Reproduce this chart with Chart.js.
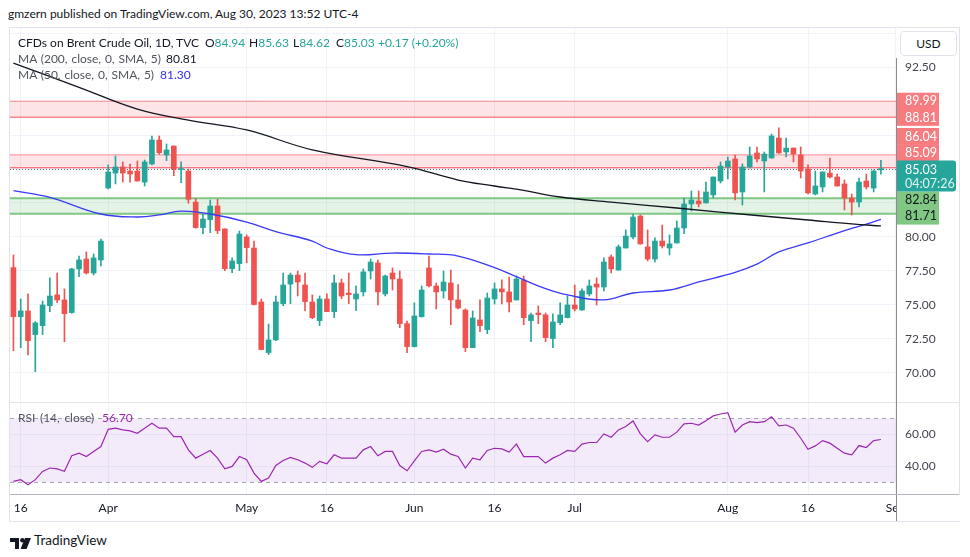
<!DOCTYPE html>
<html>
<head>
<meta charset="utf-8">
<script src="https://cdn.jsdelivr.net/npm/chart.js@4.4.0/dist/chart.umd.min.js"></script>
<style>
body { margin: 0; background: #fff; font-family: Lato, 'Noto Sans', sans-serif; color: #131722; }
#wrap { position: relative; width: 970px; height: 557px; overflow: hidden; }
.abs { position: absolute; white-space: nowrap; }
.leg { font-size: 12px; line-height: 16px; }
.ma { word-spacing: 0.8px; }
.up { color: #26a69a; }
.gray { color: #50535e; }
</style>
</head>
<body>
<div id="wrap">
  <div class="abs" style="left:8px;top:6px;font-size:12px;line-height:16px;color:#131722">gmzern published on TradingView.com, Aug 30, 2023 13:52 UTC-4</div>
  <div class="abs" style="left:9px;top:27px;width:949px;height:493px;border:1px solid #e0e3eb"></div>
  <canvas id="priceChart" width="960" height="375" style="position:absolute;left:0;top:28px"></canvas>
  <canvas id="rsiChart" width="960" height="118" style="position:absolute;left:0;top:403px"></canvas>
  <!-- pane separator and axis lines -->
  <div class="abs" style="left:10px;top:402px;width:949px;height:1px;background:#e0e3eb"></div>
  <div class="abs" style="left:896px;top:58px;width:1px;height:463px;background:#8a8d96"></div>
  <div class="abs" style="left:10px;top:494px;width:949px;height:1px;background:#b2b5be"></div>
  <div class="abs" style="left:900px;top:31px;width:55px;height:23px;border:1px solid #e0e3eb;border-radius:4px;background:#fff;font-size:12px;line-height:23px;text-align:center;color:#131722">USD</div>

  <div class="abs leg" style="left:18px;top:35px;color:#131722">CFDs on Brent Crude Oil, 1D, TVC</div>
  <div class="abs leg" style="left:205px;top:35px">O<span class="up">84.94</span></div>
  <div class="abs leg" style="left:249px;top:35px">H<span class="up">85.63</span></div>
  <div class="abs leg" style="left:293px;top:35px">L<span class="up">84.62</span></div>
  <div class="abs leg" style="left:336px;top:35px">C<span class="up">85.03</span></div>
  <div class="abs leg up" style="left:378px;top:35px">+0.17 (+0.20%)</div>
  <div class="abs leg gray ma" style="left:18px;top:51px">MA (200, close, 0, SMA, 5)</div>
  <div class="abs leg" style="left:166px;top:51px;color:#131722">80.81</div>
  <div class="abs leg gray ma" style="left:18px;top:67px">MA (50, close, 0, SMA, 5)</div>
  <div class="abs leg" style="left:160px;top:67px;color:#2f2ff0">81.30</div>
  <div class="abs leg gray" style="left:18px;top:410px;word-spacing:1.5px">RSI (14, close)</div>
  <div class="abs leg" style="left:102px;top:410px;color:#9c27b0">56.70</div>

  <div class="abs" style="left:10px;top:534px">
    <svg width="22" height="12" viewBox="0 0 22 12">
      <path d="M0 0H9V11H5V4H0Z" fill="#131722"/>
      <circle cx="12.3" cy="2.2" r="2.2" fill="#131722"/>
      <path d="M15 0H21L16.5 11H10.5Z" fill="#131722"/>
    </svg>
  </div>
  <div class="abs" style="left:34px;top:531px;font-size:13.5px;line-height:18px;color:#131722">TradingView</div>
</div>

<script>
// trading days (Good Friday Apr 7 closed); Aug 31 / Sep 1 only for the time scale
const marDays = [15, 16, 17, 20, 21, 22, 23, 24, 27, 28, 29, 30, 31];
const aprDays = [3, 4, 5, 6, 10, 11, 12, 13, 14, 17, 18, 19, 20, 21, 24, 25, 26, 27, 28];
const mayDays = [1, 2, 3, 4, 5, 8, 9, 10, 11, 12, 15, 16, 17, 18, 19, 22, 23, 24, 25, 26, 29, 30, 31];
const junDays = [1, 2, 5, 6, 7, 8, 9, 12, 13, 14, 15, 16, 19, 20, 21, 22, 23, 26, 27, 28, 29, 30];
const julDays = [3, 4, 5, 6, 7, 10, 11, 12, 13, 14, 17, 18, 19, 20, 21, 24, 25, 26, 27, 28, 31];
const augDays = [1, 2, 3, 4, 7, 8, 9, 10, 11, 14, 15, 16, 17, 18, 21, 22, 23, 24, 25, 28, 29, 30, 31];
const sepDays = [1];

const xTickDates = ['Mar 16', 'Apr 3', 'May 1', 'May 16', 'Jun 1', 'Jun 16', 'Jul 3', 'Aug 1', 'Aug 16', 'Sep 1'];
const xTickText = ['16', 'Apr', 'May', '16', 'Jun', '16', 'Jul', 'Aug', '16', 'Sep'];

const opens = [77.75, 74.14, 74.56, 72.82, 73.48, 74.95, 75.74, 75.37, 74.44, 77.65,
  78.38, 77.35, 78.31, 83.60, 84.70, 85.15, 84.85, 84.85, 84.04, 85.37,
  87.13, 86.03, 86.69, 84.96, 84.85, 82.57, 80.69, 81.27, 82.28, 80.59,
  77.67, 78.04, 80.00, 79.19, 75.22, 71.50, 72.43, 75.10, 76.54, 77.20,
  76.47, 75.22, 73.85, 75.44, 74.51, 76.62, 75.88, 75.44, 75.96, 77.50,
  78.09, 75.81, 77.35, 76.91, 73.63, 71.94, 74.14, 77.72, 76.40, 76.03,
  76.62, 75.37, 74.63, 71.86, 73.90, 73.19, 75.44, 76.18, 75.96, 75.37,
  76.84, 73.85, 74.41, 74.27, 72.53, 73.70, 74.07, 75.00, 74.63, 75.81,
  76.54, 76.32, 78.53, 77.57, 79.19, 80.00, 81.54, 79.27, 78.38, 79.70,
  79.19, 79.56, 80.66, 82.43, 82.65, 82.50, 83.09, 84.12, 85.15, 85.74,
  83.31, 85.15, 86.18, 85.59, 85.81, 87.28, 86.25, 86.54, 86.03, 85.00,
  83.16, 83.68, 84.70, 84.41, 83.90, 82.87, 82.57, 84.12, 83.60, 84.94];
const highs = [78.68, 75.44, 75.81, 73.78, 75.29, 76.99, 77.35, 76.18, 77.70, 78.60,
  78.90, 78.75, 79.85, 85.30, 85.96, 85.52, 85.37, 85.59, 85.66, 87.43,
  87.43, 86.84, 86.70, 85.52, 84.98, 82.84, 81.67, 82.72, 82.77, 80.60,
  78.46, 80.44, 80.15, 79.70, 75.44, 73.60, 75.66, 77.35, 77.35, 77.50,
  77.35, 75.74, 75.66, 75.81, 77.20, 76.91, 77.35, 76.40, 77.65, 78.38,
  78.31, 77.20, 77.72, 77.50, 73.82, 75.15, 76.40, 78.60, 76.62, 77.50,
  77.57, 76.50, 74.71, 74.56, 75.37, 75.88, 76.62, 76.84, 77.06, 77.13,
  77.13, 74.41, 74.93, 74.41, 74.34, 75.15, 75.66, 76.47, 76.18, 76.84,
  76.99, 78.46, 78.68, 79.41, 80.52, 81.69, 81.62, 80.52, 79.93, 80.88,
  80.15, 81.18, 82.87, 83.38, 83.38, 84.04, 84.42, 85.52, 85.88, 86.03,
  85.37, 86.62, 86.62, 86.25, 87.57, 88.02, 87.28, 86.55, 86.62, 85.30,
  84.85, 84.79, 85.81, 84.63, 84.19, 83.16, 84.34, 84.63, 84.93, 85.63];
const lows = [71.64, 71.86, 71.32, 70.10, 72.82, 74.51, 75.17, 72.30, 74.39, 77.08,
  77.28, 77.20, 77.87, 83.53, 83.90, 84.04, 84.04, 84.10, 83.75, 85.30,
  86.08, 85.61, 84.51, 83.99, 82.48, 80.65, 80.25, 80.32, 80.25, 77.53,
  77.38, 77.53, 78.11, 75.00, 71.70, 71.35, 72.38, 74.95, 75.10, 75.66,
  74.58, 73.99, 73.48, 74.50, 74.07, 75.47, 75.10, 74.58, 75.66, 76.91,
  75.00, 75.66, 76.10, 73.33, 71.50, 71.90, 74.10, 76.32, 74.71, 75.51,
  73.55, 74.71, 71.57, 71.85, 73.04, 72.89, 75.07, 75.07, 74.49, 75.35,
  73.55, 72.30, 73.63, 72.30, 71.86, 73.55, 74.05, 74.56, 74.60, 75.66,
  75.00, 76.03, 77.35, 77.55, 79.18, 79.85, 79.47, 78.24, 78.16, 79.19,
  78.68, 79.55, 80.25, 81.91, 82.21, 82.50, 82.87, 83.97, 84.27, 82.72,
  82.35, 85.07, 85.52, 83.31, 85.80, 86.15, 85.88, 85.52, 84.34, 83.16,
  83.09, 83.31, 84.34, 83.74, 81.99, 81.62, 82.21, 83.53, 83.31, 84.62];
const closes = [74.14, 74.56, 72.38, 73.68, 75.00, 75.66, 75.37, 74.36, 77.65, 78.31,
  77.35, 78.46, 79.70, 84.78, 85.15, 84.70, 84.63, 84.12, 85.52, 87.13,
  86.20, 86.40, 84.98, 85.00, 82.77, 80.69, 81.32, 82.28, 80.47, 77.67,
  78.24, 80.22, 79.22, 75.03, 71.72, 72.43, 75.22, 76.47, 77.20, 76.69,
  75.25, 74.07, 75.44, 74.51, 76.62, 75.66, 75.76, 75.81, 77.43, 78.16,
  75.96, 77.13, 76.91, 73.63, 71.94, 74.19, 76.10, 76.40, 75.96, 76.69,
  75.37, 74.78, 71.86, 74.04, 73.48, 75.51, 76.18, 75.96, 75.22, 76.91,
  74.07, 74.27, 74.29, 72.60, 73.75, 74.27, 75.00, 74.71, 76.03, 76.40,
  76.32, 78.16, 77.65, 79.27, 80.07, 81.47, 79.49, 78.38, 79.70, 79.34,
  79.49, 80.66, 82.43, 82.72, 82.43, 83.31, 84.41, 85.22, 85.59, 83.24,
  85.15, 85.96, 85.74, 86.10, 87.43, 86.18, 86.54, 86.10, 84.85, 83.24,
  83.75, 84.78, 84.41, 83.75, 82.87, 82.57, 84.04, 83.68, 84.86, 85.03];

// moving averages at these bars
const ma200Bars = [0, 9, 17, 24, 32, 41, 54, 61, 66, 70, 75, 82, 91, 102, 109, 115, 119];
const ma200Vals = [92.78, 91.01, 89.41, 88.60, 87.87, 86.41, 85.18, 84.19, 83.75, 83.42, 82.94, 82.57, 82.13, 81.58, 81.25, 80.96, 80.81];
const ma50Bars = [0, 5, 12, 17, 20, 23, 27, 32, 36, 41, 43, 47, 52, 57, 61, 66, 69, 73, 76, 81, 85, 90, 94, 99, 102, 105, 109, 113, 117, 119];
const ma50Vals = [83.41, 82.92, 81.69, 81.47, 81.62, 81.90, 81.69, 81.10, 80.40, 79.70, 79.19, 78.70, 78.82, 78.75, 78.60, 77.75, 77.08, 76.20, 75.74, 75.37, 75.88, 76.10, 76.69, 77.40, 78.00, 78.90, 79.56, 80.29, 80.95, 81.30];

const rsi = [30.4, 31.5, 28.3, 31.5, 36.7, 38.8, 38.3, 36.7, 46.5, 48.1,
  46.0, 49.2, 52.3, 63.1, 63.8, 62.7, 62.1, 60.6, 63.8, 66.9,
  63.8, 63.8, 58.5, 58.5, 50.2, 45.0, 47.5, 49.8, 45.0, 38.3,
  39.8, 46.0, 44.0, 35.6, 30.4, 32.5, 40.4, 43.5, 45.4, 44.0,
  41.9, 39.2, 43.0, 41.5, 47.1, 45.0, 45.0, 45.0, 50.2, 52.3,
  46.5, 49.2, 49.2, 40.4, 37.1, 43.3, 49.2, 50.2, 48.8, 50.6,
  47.5, 46.0, 38.8, 45.0, 44.0, 49.8, 51.2, 50.8, 48.8, 53.8,
  46.0, 46.0, 46.0, 41.9, 45.0, 47.1, 49.8, 49.2, 53.8, 54.8,
  54.8, 60.2, 58.1, 62.7, 64.8, 68.3, 60.2, 55.4, 59.6, 58.1,
  58.1, 61.3, 66.5, 66.9, 65.8, 68.5, 71.5, 72.7, 73.5, 61.3,
  65.8, 67.9, 67.3, 67.9, 71.0, 65.2, 65.8, 63.8, 57.5, 50.6,
  52.7, 56.0, 54.4, 51.2, 48.1, 47.1, 52.9, 51.7, 56.0, 56.7];

// horizontal zones drawn on the chart
const zoneTops = [89.99, 86.04, 82.84];
const zoneBottoms = [88.81, 85.09, 81.71];
const zoneKinds = ['res', 'res', 'sup'];
const priceTickValues = [70, 72.5, 75, 77.5, 80, 82.5, 85, 87.5, 90, 92.5, 95];
const priceLabelHidden = [95]; // sits under the USD button
const rsiTickValues = [40, 60];
const rsiBounds = [30, 70];
const countdown = '04:07:26';

const UP = '#26a69a', DOWN = '#ef5350';
const FONT = 'Lato, "Noto Sans", sans-serif';
const zoneStyle = {
  res: { fill: 'rgba(242,54,69,0.13)', top: 'rgba(242,54,69,0.55)', bottom: 'rgba(242,54,69,0.85)', width: 1, label: '#f77c80', text: '#ffffff' },
  sup: { fill: 'rgba(76,175,80,0.15)', top: '#81c784', bottom: '#81c784', width: 2, label: '#81c784', text: '#131722' }
};

const dates = [];
[['Mar', marDays], ['Apr', aprDays], ['May', mayDays], ['Jun', junDays], ['Jul', julDays], ['Aug', augDays], ['Sep', sepDays]]
  .forEach(([m, days]) => days.forEach(d => dates.push(m + ' ' + d)));
const xTickIdx = xTickDates.map(d => dates.indexOf(d));
const candleColors = closes.map((c, i) => c >= opens[i] ? UP : DOWN);

const xRange = { min: -0.47, max: 121.07 };

function xScale(showLabels) {
  return {
    type: 'linear', min: xRange.min, max: xRange.max, offset: false,
    grid: { color: '#f0f3fa', drawTicks: false, offset: false },
    border: { display: false },
    afterBuildTicks: s => { s.ticks = xTickIdx.map(v => ({ value: v })); },
    ticks: {
      display: showLabels, padding: 7, maxRotation: 0, autoSkip: false,
      color: '#131722', font: { family: FONT, size: 12 },
      callback: v => xTickText[xTickIdx.indexOf(v)]
    },
    afterFit: s => { s.height = showLabels ? 27 : 0; s.paddingLeft = 0; s.paddingRight = 0; }
  };
}

function yAxis(ticks, min, max) {
  return {
    position: 'right', min: min, max: max,
    grid: { color: '#f0f3fa', drawTicks: false },
    border: { display: false },
    afterBuildTicks: s => { s.ticks = ticks.map(v => ({ value: v })); },
    ticks: {
      padding: 9, color: '#434651', font: { family: FONT, size: 12 },
      callback: v => priceLabelHidden.includes(v) ? '' : v.toFixed(2)
    },
    afterFit: s => { s.width = 64; s.paddingTop = 0; s.paddingBottom = 0; }
  };
}

// zones, current price line and the coloured price labels
const priceDecor = {
  id: 'priceDecor',
  beforeDatasetsDraw(chart) {
    const { ctx, chartArea: a, scales: { y } } = chart;
    ctx.save();
    ctx.beginPath();
    ctx.rect(a.left, a.top, a.width, a.height);
    ctx.clip();
    zoneTops.forEach((hi, i) => {
      const st = zoneStyle[zoneKinds[i]];
      const yt = y.getPixelForValue(hi), yb = y.getPixelForValue(zoneBottoms[i]);
      ctx.fillStyle = st.fill;
      ctx.fillRect(a.left, yt, a.width, yb - yt);
      ctx.lineWidth = st.width;
      ctx.strokeStyle = st.top;
      ctx.beginPath(); ctx.moveTo(a.left, yt); ctx.lineTo(a.right, yt); ctx.stroke();
      ctx.strokeStyle = st.bottom;
      ctx.beginPath(); ctx.moveTo(a.left, yb); ctx.lineTo(a.right, yb); ctx.stroke();
    });
    const yc = Math.round(y.getPixelForValue(closes[closes.length - 1])) + 0.5;
    ctx.setLineDash([1, 2]);
    ctx.lineWidth = 1;
    ctx.strokeStyle = '#3f7f7a';
    ctx.beginPath(); ctx.moveTo(a.left, yc); ctx.lineTo(a.right, yc); ctx.stroke();
    ctx.restore();
  },
  afterDraw(chart) {
    const { ctx, chartArea: a, scales: { y } } = chart;
    const h = 16.3;
    const last = closes[closes.length - 1];
    const yLast = y.getPixelForValue(last);
    const curTop = yLast - 8;
    const curBot = curTop + 2 * h - 1.7;
    const items = [];
    zoneTops.forEach((v, i) => {
      items.push({ v: v, kind: zoneKinds[i] });
      items.push({ v: zoneBottoms[i], kind: zoneKinds[i] });
    });
    const above = items.filter(o => o.v > last).sort((p, q) => p.v - q.v);
    const below = items.filter(o => o.v < last).sort((p, q) => q.v - p.v);
    let limit = curTop;
    above.forEach(o => { o.c = Math.min(y.getPixelForValue(o.v), limit - h / 2); limit = o.c - h / 2; });
    limit = curBot;
    below.forEach(o => { o.c = Math.max(y.getPixelForValue(o.v), limit + h / 2); limit = o.c + h / 2; });
    ctx.save();
    ctx.font = '12.5px ' + FONT;
    ctx.textBaseline = 'middle';
    above.concat(below).forEach(o => {
      const st = zoneStyle[o.kind];
      ctx.fillStyle = st.label;
      ctx.fillRect(a.right, o.c - h / 2, 43, h + 0.5);
      ctx.fillStyle = st.text;
      ctx.fillText(o.v.toFixed(2), a.right + 9, o.c + 0.5);
    });
    ctx.fillStyle = UP;
    ctx.beginPath();
    ctx.roundRect(a.right, curTop, 60, curBot - curTop, [0, 3, 3, 0]);
    ctx.fill();
    ctx.fillStyle = '#ffffff';
    ctx.fillText(last.toFixed(2), a.right + 9, yLast + 1);
    ctx.fillStyle = 'rgba(255,255,255,0.85)';
    ctx.fillText(countdown, a.right + 9, yLast + 15.5);
    ctx.restore();
  }
};

const rsiDecor = {
  id: 'rsiDecor',
  beforeDatasetsDraw(chart) {
    const { ctx, chartArea: a, scales: { y } } = chart;
    const yt = y.getPixelForValue(rsiBounds[1]), yb = y.getPixelForValue(rsiBounds[0]);
    ctx.save();
    ctx.fillStyle = 'rgba(150,70,210,0.11)';
    ctx.fillRect(a.left, yt, a.width, yb - yt);
    ctx.setLineDash([4, 4]);
    ctx.strokeStyle = '#a3a6af';
    ctx.lineWidth = 1;
    [yt, yb].forEach(p => {
      ctx.beginPath(); ctx.moveTo(a.left, Math.round(p) + 0.5); ctx.lineTo(a.right, Math.round(p) + 0.5); ctx.stroke();
    });
    ctx.restore();
  },
  afterDraw(chart) {
    const { ctx, chartArea: a } = chart;
    // the "Sep" label is cut by the price scale column
    ctx.save();
    ctx.fillStyle = '#ffffff';
    ctx.fillRect(a.right, a.bottom + 1, chart.width - a.right, chart.height - a.bottom);
    ctx.restore();
  }
};

new Chart(document.getElementById('priceChart'), {
  type: 'bar',
  data: {
    datasets: [
      {
        type: 'line', data: ma200Bars.map((b, i) => ({ x: b, y: ma200Vals[i] })),
        borderColor: '#131722', borderWidth: 1.3, pointRadius: 0, tension: 0.4, order: 0
      },
      {
        type: 'line', data: ma50Bars.map((b, i) => ({ x: b, y: ma50Vals[i] })),
        borderColor: '#3a3af5', borderWidth: 1.3, pointRadius: 0, tension: 0.4, order: 0
      },
      {
        data: opens.map((o, i) => ({ x: i, y: [o, closes[i]] })),
        backgroundColor: candleColors, barThickness: 5, minBarLength: 1, grouped: false, borderWidth: 0, order: 1
      },
      {
        data: lows.map((l, i) => ({ x: i, y: [l, highs[i]] })),
        backgroundColor: candleColors, barThickness: 1, grouped: false, borderWidth: 0, order: 2
      }
    ]
  },
  options: {
    responsive: false, animation: false, devicePixelRatio: 1,
    layout: { padding: { left: 10, right: 0, top: 0, bottom: 0 } },
    plugins: { legend: { display: false }, tooltip: { enabled: false } },
    scales: { x: xScale(false), y: yAxis(priceTickValues, 67.79, 95.37) }
  },
  plugins: [priceDecor]
});

new Chart(document.getElementById('rsiChart'), {
  type: 'line',
  data: {
    datasets: [{
      data: rsi.map((v, i) => ({ x: i, y: v })),
      borderColor: '#9c27b0', borderWidth: 1.2, pointRadius: 0, tension: 0
    }]
  },
  options: {
    responsive: false, animation: false, devicePixelRatio: 1,
    layout: { padding: { left: 10, right: 0, top: 0, bottom: 0 } },
    plugins: { legend: { display: false }, tooltip: { enabled: false } },
    scales: { x: xScale(true), y: yAxis(rsiTickValues, 22.5, 79.6) }
  },
  plugins: [rsiDecor]
});
</script>
</body>
</html>
